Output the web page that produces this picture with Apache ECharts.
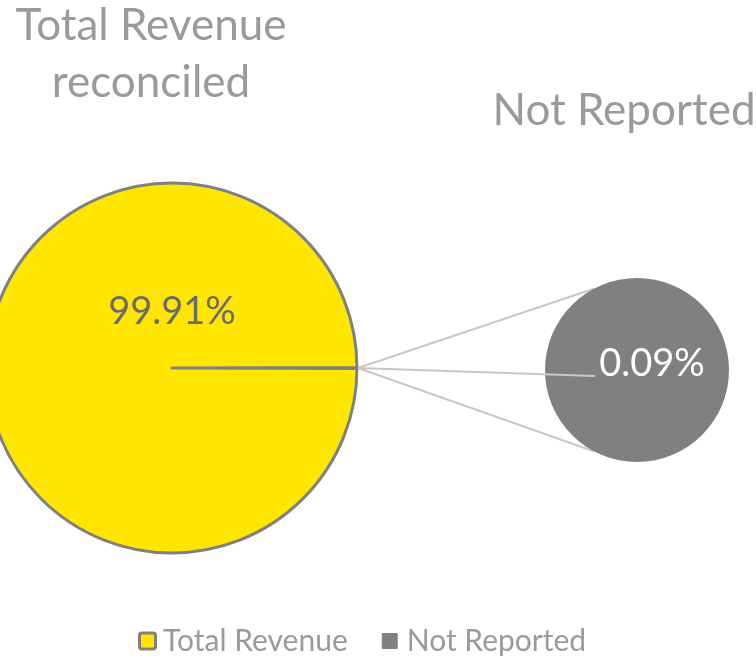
<!DOCTYPE html>
<html><head><meta charset="utf-8">
<script src="https://cdn.jsdelivr.net/npm/echarts@6/dist/echarts.min.js"></script>
<style>html,body{margin:0;padding:0;background:#fff}#c{width:756px;height:657px}</style>
</head><body><div id="c"></div>
<script>
const categories = ['Total Revenue', 'Not Reported'];
const values = [99.91, 0.09];
const labels = ['99.91%', '0.09%'];
const titles = ['Total Revenue\nreconciled', 'Not Reported'];

const FONT = 'Lato';
const bigC = [172, 368], bigR = 185;
const smallC = [637, 370], smallR = 92;
const YEL = '#FFE600', GRY = '#808080', TXT = '#9a9a9a';

const chart = echarts.init(document.getElementById('c'));
const half = values[1] / 100 * 180;
const origin = [bigC[0] + bigR + 1, bigC[1]];
const th = 118 * Math.PI / 180;
const topPt = [smallC[0] + smallR * Math.cos(th), smallC[1] - smallR * Math.sin(th)];
const botPt = [smallC[0] + smallR * Math.cos(th), smallC[1] + smallR * Math.sin(th)];
const labPt = [smallC[0] - 42, smallC[1] + 6];

chart.setOption({
  animation: false,
  title: [
    {text: titles[0], left: 146, top: -8, textAlign: 'center',
     textStyle: {fontFamily: FONT, fontSize: 44, fontWeight: 'normal', color: TXT, lineHeight: 57}},
    {text: titles[1], left: 619, top: 77, textAlign: 'center',
     textStyle: {fontFamily: FONT, fontSize: 44, fontWeight: 'normal', color: TXT, lineHeight: 57}}
  ],
  legend: {
    bottom: -4, left: 130, itemWidth: 0, itemHeight: 0, itemGap: 29,
    icon: 'rect', data: categories,
    formatter: function (name) {
      return (name === categories[0] ? '{a|}' : '{b|}') + '{s|}{t|' + name + '}';
    },
    textStyle: {
      fontFamily: FONT, fontSize: 30, color: TXT,
      rich: {
        a: {width: 13, height: 13, backgroundColor: YEL, borderColor: GRY, borderWidth: 3, borderRadius: 1},
        b: {width: 16, height: 16, backgroundColor: GRY, borderRadius: 1},
        s: {width: 9},
        t: {fontFamily: FONT, fontSize: 30, color: TXT}
      }
    }
  },
  series: [
    {
      type: 'pie', center: bigC, radius: bigR, startAngle: half, clockwise: true,
      silent: true,
      label: {show: false}, labelLine: {show: false},
      data: [
        {name: 'other', value: values[1], itemStyle: {color: YEL, borderColor: GRY, borderWidth: 3}},
        {name: categories[0], value: values[0],
         itemStyle: {color: YEL, borderColor: GRY, borderWidth: 3},
         label: {show: true, position: 'center', formatter: labels[0], offset: [0, -56],
                 fontFamily: FONT, fontSize: 38, color: '#6b6b6b'}}
      ]
    },
    {
      type: 'pie', center: smallC, radius: smallR, silent: true,
      labelLine: {show: false},
      data: [
        {name: categories[1], value: values[1], itemStyle: {color: GRY},
         label: {show: true, position: 'center', formatter: labels[1], offset: [15, -6],
                 fontFamily: FONT, fontSize: 38, color: '#ffffff'}}
      ]
    }
  ],
  graphic: [
    {type: 'line', shape: {x1: origin[0], y1: origin[1], x2: topPt[0], y2: topPt[1]},
     style: {stroke: '#c8c8c8', lineWidth: 2}, z: 1},
    {type: 'line', shape: {x1: origin[0], y1: origin[1], x2: botPt[0], y2: botPt[1]},
     style: {stroke: '#c8c8c8', lineWidth: 2}, z: 1},
    {type: 'line', shape: {x1: origin[0], y1: origin[1], x2: labPt[0], y2: labPt[1]},
     style: {stroke: '#c8c8c8', lineWidth: 2}, z: 100}
  ]
});
</script></body></html>
